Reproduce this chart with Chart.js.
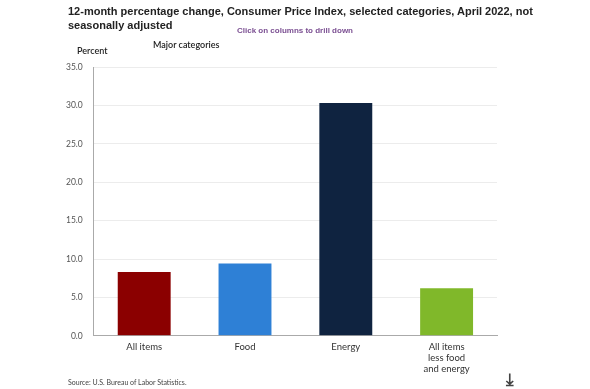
<!DOCTYPE html>
<html>
<head>
<meta charset="utf-8">
<script src="https://cdn.jsdelivr.net/npm/chart.js@4"></script>
<style>
  body { margin: 0; background: #fff; }
  #wrap { position: relative; width: 590px; height: 389px; }
  #c { position: absolute; left: 0; top: 0; }
  .t { position: absolute; white-space: nowrap; }
  #title { left: 68px; top: 4px; font: bold 11px "Liberation Sans", Arial, sans-serif; color: #222; line-height: 14px; }
  #drill { left: 0; width: 590px; text-align: center; top: 26px; font: bold 8px "Liberation Sans", Arial, sans-serif; color: #7b4f92; }
  #major { left: 153px; top: 39px; font: 600 9px Lato, sans-serif; color: #222; }
  #pct { left: 77px; top: 45px; font: 600 9px Lato, sans-serif; color: #222; }
  #src { left: 68px; top: 378px; font: 7px Lato, sans-serif; color: #444; }
  #dl { left: 506px; top: 369px; font: bold 17px "DejaVu Sans", sans-serif; color: #444; }
</style>
</head>
<body>
<div id="wrap">
  <canvas id="c" width="590" height="389"></canvas>
  <div class="t" id="title">12-month percentage change, Consumer Price Index, selected categories, April 2022, not<br>seasonally adjusted</div>
  <div class="t" id="drill">Click on columns to drill down</div>
  <div class="t" id="major">Major categories</div>
  <div class="t" id="pct">Percent</div>
  <div class="t" id="src">Source: U.S. Bureau of Labor Statistics.</div>
  <div class="t" id="dl">&#x2913;</div>
</div>
<script>
var categories = ["All items", "Food", "Energy", ["All items", "less food", "and energy"]];
var values = [8.3, 9.4, 30.3, 6.2];
var barColors = ["#8b0000", "#2e80d6", "#0f2340", "#80b82a"];
var yTicks = [0, 5, 10, 15, 20, 25, 30, 35];

var ctx = document.getElementById("c").getContext("2d");
var myChart = new Chart(ctx, {
  type: "bar",
  data: {
    labels: categories,
    datasets: [
      {
        data: values,
        backgroundColor: barColors,
        borderWidth: 0,
        barPercentage: 0.525,
        categoryPercentage: 1,
      }
    ],
  },
  options: {
    responsive: false,
    animation: false,
    layout: { padding: { left: 55, right: 93, top: 67, bottom: 9 } },
    plugins: {
      legend: { display: false },
      tooltip: { enabled: false },
    },
    scales: {
      x: {
        grid: { display: false, drawTicks: false },
        border: { color: "#aaa", width: 1 },
        ticks: { color: "#333", font: { family: "Lato", size: 9.5 }, padding: 5, maxRotation: 0 },
      },
      y: {
        min: 0,
        max: 35,
        afterBuildTicks: function (axis) {
          axis.ticks = yTicks.map(function (v) { return { value: v }; });
        },
        grid: { color: "#ececec", drawTicks: false },
        border: { color: "#aaa", width: 1 },
        ticks: {
          color: "#555",
          font: { family: "Lato", size: 8.5 },
          padding: 11,
          callback: function (v) { return Number(v).toFixed(1); },
        },
      },
    },
  },
});
</script>
</body>
</html>
